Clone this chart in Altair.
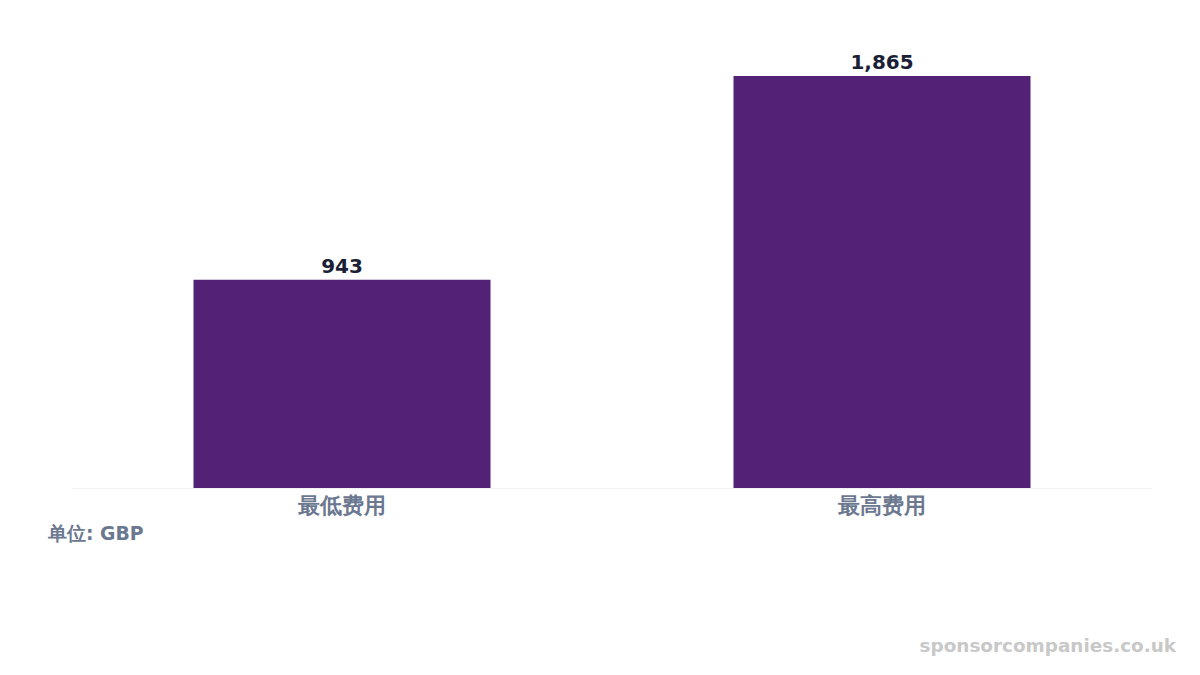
import altair as alt
import pandas as pd

categories = ["最低费用", "最高费用"]
values = [943, 1865]
labels = ["943", "1,865"]

df = pd.DataFrame({"cat": categories, "val": values, "label": labels})

x_enc = alt.X("cat:N", sort=categories,
              scale=alt.Scale(paddingInner=0.45, paddingOuter=0.225),
              axis=alt.Axis(title=None, labelAngle=0, labelFont="DejaVu Sans",
                            labelFontSize=22, labelFontWeight="bold",
                            labelColor="#6b7890", labelPadding=7,
                            ticks=False, domain=True, domainColor="#f2f2f2",
                            domainWidth=1, grid=False))
y_enc = alt.Y("val:Q", scale=alt.Scale(domain=[0, 2051], nice=False),
              axis=None)

bars = alt.Chart(df).mark_bar(color="#532277").encode(x=x_enc, y=y_enc)

text = alt.Chart(df).mark_text(
    baseline="bottom", dy=-3, font="DejaVu Sans", fontSize=20,
    fontWeight="bold", color="#1a1f36"
).encode(x=alt.X("cat:N", sort=categories), y="val:Q", text="label:N")

unit = alt.Chart(pd.DataFrame({"t": ["单位: GBP"]})).mark_text(
    align="left", baseline="middle", font="DejaVu Sans", fontSize=18.8,
    fontWeight="bold", color="#6b7890"
).encode(x=alt.value(-24), y=alt.value(499), text="t:N")

wm = alt.Chart(pd.DataFrame({"t": ["sponsorcompanies.co.uk"]})).mark_text(
    align="right", baseline="middle", font="DejaVu Sans", fontSize=18.4,
    fontWeight="bold", color="#c8c8c8"
).encode(x=alt.value(1104), y=alt.value(611), text="t:N")

chart = alt.layer(bars, text, unit, wm).properties(
    width=1080, height=453,
    autosize=alt.AutoSizeParams(type="none"),
    padding={"left": 64, "top": 27, "right": 40, "bottom": 179},
    background="white"
).configure_view(stroke=None)

chart.save("out.html", embed_options={"renderer": "svg", "actions": False})
